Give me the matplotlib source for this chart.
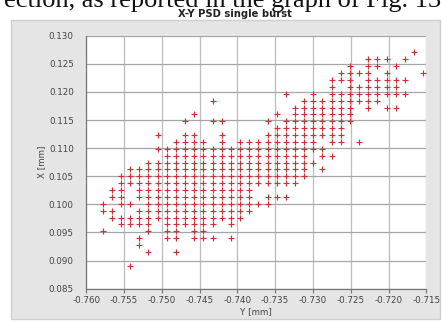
import matplotlib
matplotlib.use("Agg")
import matplotlib.pyplot as plt
from matplotlib.patches import Rectangle

# detector pixel lattice (mm)
x_first = -0.75783
x_pitch = 0.001212
y_first = 0.08907
y_pitch = 0.001224

# hit columns per lattice row, row 0 = lowest (X ~ 0.089 mm)
hit_cols = [
    [3],
    [],
    [5, 8],
    [4],
    [4, 7, 8, 10, 11, 12, 14],
    [0, 5, 7, 8, 10, 11],
    [2, 3, 4, 5, 7, 8, 9, 10, 11, 12, 14],
    [1, 2, 3, 4, 5, 6, 7, 8, 9, 10, 11, 12, 13, 14, 15],
    [0, 1, 4, 5, 6, 7, 8, 9, 10, 11, 12, 13, 14, 15, 16],
    [0, 2, 3, 5, 6, 7, 8, 9, 10, 11, 12, 13, 14, 15, 16, 17, 18],
    [1, 2, 4, 5, 6, 7, 8, 9, 10, 11, 12, 13, 14, 15, 16, 18, 19, 20],
    [1, 2, 4, 5, 6, 7, 8, 9, 10, 11, 12, 13, 14, 15, 16],
    [2, 3, 4, 5, 6, 7, 8, 9, 10, 11, 12, 13, 14, 15, 16, 17, 18, 19, 20, 21],
    [2, 3, 4, 5, 6, 7, 8, 9, 10, 11, 12, 13, 14, 15, 16, 17, 18, 19, 20, 21, 22],
    [3, 4, 5, 6, 7, 8, 9, 10, 11, 12, 13, 14, 15, 16, 17, 18, 19, 20, 21, 22, 24],
    [5, 6, 7, 8, 9, 10, 11, 12, 13, 14, 15, 16, 17, 18, 19, 20, 21, 22, 23],
    [7, 8, 9, 10, 11, 12, 13, 14, 15, 16, 17, 18, 19, 20, 21, 22, 24, 25],
    [6, 7, 8, 9, 10, 11, 12, 13, 14, 15, 16, 17, 18, 19, 20, 21, 22, 23, 24],
    [8, 9, 10, 11, 13, 15, 16, 17, 18, 19, 20, 21, 22, 23, 25, 26, 28],
    [6, 9, 10, 13, 18, 19, 20, 21, 22, 23, 24, 25, 26],
    [19, 20, 21, 22, 23, 24, 25, 26],
    [9, 12, 13, 18, 20, 21, 22, 23, 24, 25, 26, 27],
    [10, 19, 21, 22, 23, 24, 25, 26, 27],
    [21, 22, 23, 24, 25, 26, 27, 29, 31, 32],
    [12, 22, 23, 24, 25, 26, 27, 28, 29, 30],
    [20, 23, 25, 26, 27, 28, 29, 30, 31, 32, 33],
    [25, 27, 28, 29, 30, 31, 32],
    [25, 26, 27, 29, 30, 31, 32, 33],
    [26, 27, 28, 29, 31, 35],
    [27, 29, 30, 32],
    [29, 30, 31, 33],
    [34],
]

x_ticks = [-0.760, -0.755, -0.750, -0.745, -0.740, -0.735, -0.730, -0.725, -0.720, -0.715]
y_ticks = [0.085, 0.090, 0.095, 0.100, 0.105, 0.110, 0.115, 0.120, 0.125, 0.130]

xs = []
ys = []
for row, cols in enumerate(hit_cols):
    for c in cols:
        xs.append(x_first + c * x_pitch)
        ys.append(y_first + row * y_pitch)

fig = plt.figure(figsize=(4.48, 3.22), dpi=100)
fig.patch.set_facecolor("white")

# grey chart panel, behind the axes
panel = Rectangle((11 / 448, 3 / 322), 429 / 448, 299 / 322,
                  transform=fig.transFigure, facecolor="#e5e5e5",
                  edgecolor="#cfcfcf", linewidth=1.0, zorder=-5)
fig.add_artist(panel)

# cut-off line of the surrounding page text
fig.text(4 / 448, 1 - 6.5 / 322, "ection, as reported in the graph of Fig. 13",
         family="Liberation Serif", fontsize=19, ha="left", va="baseline",
         color="#111111")

fig.text(235 / 448, 1 - 13.8 / 322, "X-Y PSD single burst", fontsize=7.2,
         fontweight="bold", ha="center", va="center", color="#222222")

ax = fig.add_axes([86.3 / 448, 33.4 / 322, 340 / 448, 252.9 / 322])
ax.set_facecolor("white")
ax.plot(xs, ys, linestyle="none", marker="+", markersize=4.3,
        markeredgewidth=0.85, color="#cc3038", zorder=3)

ax.set_xlim(-0.760, -0.715)
ax.set_ylim(0.085, 0.130)
ax.set_xticks(x_ticks)
ax.set_yticks(y_ticks)
ax.set_xticklabels(["%.3f" % v for v in x_ticks])
ax.set_yticklabels(["%.3f" % v for v in y_ticks])
ax.grid(True, axis="x", color="#bdbdbd", linewidth=0.9)
ax.grid(True, axis="y", color="#a6a6a6", linewidth=0.9)
ax.set_axisbelow(True)

for side in ["top", "right"]:
    ax.spines[side].set_visible(False)
for side in ["left", "bottom"]:
    ax.spines[side].set_color("#777777")
    ax.spines[side].set_linewidth(0.9)

ax.tick_params(axis="x", length=3, width=0.8, color="#777777", pad=2,
               labelsize=6.3, labelcolor="#444444")
ax.tick_params(axis="y", length=0, pad=9, labelsize=6.3, labelcolor="#444444")

ax.set_xlabel("Y [mm]", fontsize=6.3, color="#444444", labelpad=2)
ax.set_ylabel("X [mm]", fontsize=6.3, color="#444444", labelpad=2)

fig.savefig("out.png", dpi=100)
